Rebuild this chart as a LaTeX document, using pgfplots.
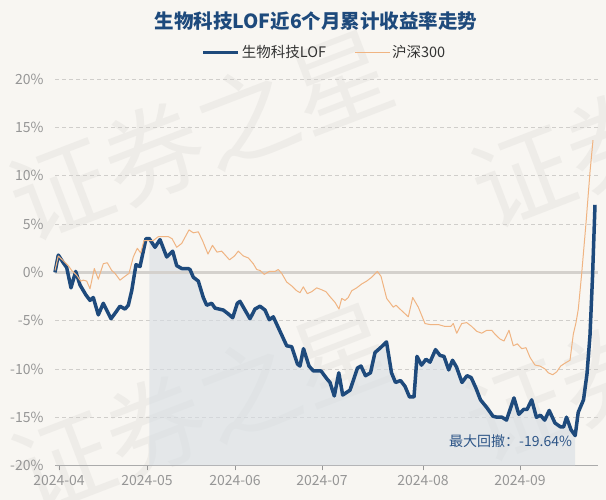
\documentclass[border=0pt]{standalone}
\usepackage{fontspec}
\setmainfont{Noto Sans CJK SC}
\usepackage{pgfplots}
\usepackage{pgfplotstable}
\pgfplotsset{compat=1.18}

\definecolor{bgcol}{RGB}{248,246,242}
\definecolor{fundcol}{RGB}{30,74,124}
\definecolor{hscol}{RGB}{240,180,130}
\definecolor{tickcol}{RGB}{150,150,150}
\definecolor{gridcol}{RGB}{208,206,203}
\definecolor{zerocol}{RGB}{212,209,205}
\definecolor{shadecol}{RGB}{215,222,228}
\definecolor{wmcol}{RGB}{238,236,232}
\definecolor{ddcol}{RGB}{45,85,135}

% x = position along the time axis (trading days, drawn to scale), y = cumulative return in %
\pgfplotstableread{
x y
55 0.0
58.3 1.8
63.3 1.0
66.7 0.5
71 -1.6
75.7 0.1
80 -1.3
85.7 -2.3
90 -2.9
93.3 -2.6
98.3 -4.4
103.3 -3.2
111 -4.8
116 -4.1
120 -3.5
125 -3.8
128.3 -3.4
131.7 -1.9
136 0.8
140 0.6
146 3.5
149.3 3.5
155 2.6
160 3.4
166.7 1.6
172.7 2.2
176.7 0.7
181.7 0.4
188 0.4
190 0.3
193.3 -0.5
198.3 -0.9
203.3 -2.6
206.7 -3.4
211.7 -3.2
215 -3.7
223.3 -3.9
228.3 -4.3
232.7 -4.7
237.3 -3.2
240 -3.0
245 -3.9
250 -4.8
255 -3.8
260 -3.5
265 -3.9
269.3 -4.9
273.3 -4.6
280 -6.1
286.7 -7.6
291.7 -7.7
297.5 -9.5
300 -9.7
303.5 -7.9
309 -9.7
313.3 -10.2
321 -10.2
326.7 -11.0
330 -11.4
334.3 -12.8
338.8 -10.4
342.7 -12.7
350 -12.2
357.5 -9.9
361 -9.7
365.5 -10.7
370.5 -10.4
375 -8.3
380.5 -7.8
386.5 -7.2
391.5 -10.4
395.5 -11.4
400.5 -11.2
405 -11.8
409.5 -12.9
414 -12.9
417 -8.7
421.5 -9.6
426 -9.0
430 -9.3
435.5 -8.0
440 -8.6
444 -8.7
448.7 -10.1
452.5 -9.1
456.5 -9.8
462 -11.4
467 -10.7
471.2 -10.9
476 -12.0
480.5 -13.2
486.8 -14.0
493 -14.9
497 -15.0
502 -15.0
506.5 -15.3
514 -13.0
518.8 -14.7
523.5 -14.2
527 -14.2
531.7 -13.2
536.4 -15.0
540.5 -14.8
544.7 -15.3
549.2 -14.3
555 -15.6
560.5 -16.0
563.6 -16.0
566.5 -15.0
571 -16.3
575.2 -16.9
578.2 -14.5
583.5 -13.2
587 -10.5
590 -6.5
592.5 -0.5
595 7.0
}\fundtable

\pgfplotstableread{
x y
55 0.2
58.3 1.7
63.3 1.2
68.3 0.7
71.7 0.2
76.7 -0.3
80.7 -0.9
83.3 -0.8
86.7 -0.9
90 -1.7
94.3 0.4
98.3 -0.7
103.3 0.9
107.3 1.0
111.7 0.2
115 -0.1
120 -0.8
125 -0.4
129 -0.1
133.3 1.6
137.3 2.5
140.7 2.0
144 3.3
148.3 3.3
153.3 3.3
158.3 3.7
163.3 3.7
168.3 3.7
172 3.5
176.7 2.6
181.7 3.0
189 4.4
193.3 4.1
198.3 4.2
202.5 3.3
208 1.9
212.5 2.8
217 2.1
221.7 2.2
229.5 1.3
234.5 1.7
238.3 2.2
243.3 1.7
248.3 1.5
253.3 0.9
256.7 0.3
260 0.2
264.3 -0.2
269.3 0.1
275 0.1
278.3 0.3
281.7 -0.1
286.7 -1.0
291.7 -1.4
296.7 -1.9
300 -2.1
303.3 -1.5
307.3 -2.2
311.7 -2.0
316.7 -1.6
321.7 -1.8
326 -2.0
330.7 -2.6
335 -3.1
339 -3.8
341.7 -2.7
345 -2.9
348.3 -2.6
351.7 -1.9
356.7 -1.6
361.7 -1.2
366.7 -0.9
371.7 -0.5
377.3 0.1
381 -0.4
386.7 -2.7
393.3 -3.6
396 -3.4
400 -3.8
408.3 -4.6
412.7 -2.6
418.3 -3.6
425 -5.3
430 -5.4
438.3 -5.4
445 -5.6
450.7 -5.6
453.3 -5.3
456.7 -6.3
461.7 -5.3
466.7 -5.2
471.7 -5.6
476.7 -6.1
481.7 -6.3
486.7 -6.0
491.7 -6.0
495 -6.4
500 -6.9
504 -7.1
509 -6.0
513.3 -7.6
517.3 -7.4
521.7 -7.9
526 -7.8
530 -8.8
535 -9.6
540 -9.7
545 -10.0
548.3 -10.4
552.7 -10.6
556.7 -10.3
560.7 -9.7
565 -9.4
570 -9.1
573.3 -6.4
576 -5.2
578.3 -3.8
581.7 -0.1
586 5.1
590 10.4
593 13.7
}\hstable

\begin{document}
\begin{tikzpicture}
\fill[bgcol] (0pt,0pt) rectangle (606pt,500pt);
\begin{scope}
  \clip (0pt,0pt) rectangle (606pt,500pt);
  \foreach \cx/\cy in {200/365, 202/92, 662/378, 656/144}
    \node[text=wmcol, rotate=21, font=\fontsize{100}{100}\selectfont] at (\cx pt,\cy pt) {证券之星};
\end{scope}
\node[font=\fontsize{19.5}{23}\selectfont\bfseries, text=fundcol] at (316pt,479pt) {生物科技LOF近6个月累计收益率走势};

\begin{axis}[
  at={(55pt,34.5pt)}, anchor=south west,
  scale only axis, width=543pt, height=386.2pt,
  clip=false,
  xmin=55, xmax=598, ymin=-20, ymax=20,
  axis x line*=bottom, axis y line*=left,
  x axis line style={draw=tickcol!80, line width=0.8pt, -},
  y axis line style={draw=none},
  xtick={59,147,235,322,423,520},
  xticklabels={2024-04,2024-05,2024-06,2024-07,2024-08,2024-09},
  ytick={-20,-15,-10,-5,0,5,10,15,20},
  yticklabels={-20\%,-15\%,-10\%,-5\%,0\%,5\%,10\%,15\%,20\%},
  ymajorgrids,
  grid style={gridcol, line width=0.8pt, dash pattern=on 4pt off 3pt},
  tick align=outside, major tick length=5pt,
  xtick style={draw=tickcol, line width=0.8pt},
  ytick style={draw=none},
  ticklabel style={font=\fontsize{14}{16}\selectfont, text=tickcol},
  yticklabel style={xshift=-3pt},
  xticklabel style={yshift=-1pt},
  legend columns=2,
  legend style={draw=none, fill=none, at={(0.496,1.07)}, anchor=center,
    font=\fontsize{14.5}{16}\selectfont, text=black!80,
    /tikz/every even column/.append style={column sep=26pt}},
  legend image code/.code={\draw[#1] (-4pt,0pt) -- (31pt,0pt);},
]
% shaded area under the fund curve, from its peak to its trough
\addplot[fill=shadecol, fill opacity=0.6, draw=none, forget plot,
  restrict x to domain=149:576] table {\fundtable} |- (axis cs:149.3,-20) -- cycle;
% zero line
\addplot[zerocol, line width=2.5pt, forget plot] coordinates {(55,0) (598,0)};
\addplot[fundcol, line width=3.5pt, line join=round] table {\fundtable};
\addlegendentry{生物科技LOF}
\addplot[hscol, line width=1pt, line join=round] table {\hstable};
\addlegendentry{沪深300}
\node[anchor=east, text=ddcol, font=\fontsize{14}{16}\selectfont] at (axis cs:575.5,-17.5) {最大回撤：-19.64\%};
\end{axis}
\end{tikzpicture}
\end{document}
